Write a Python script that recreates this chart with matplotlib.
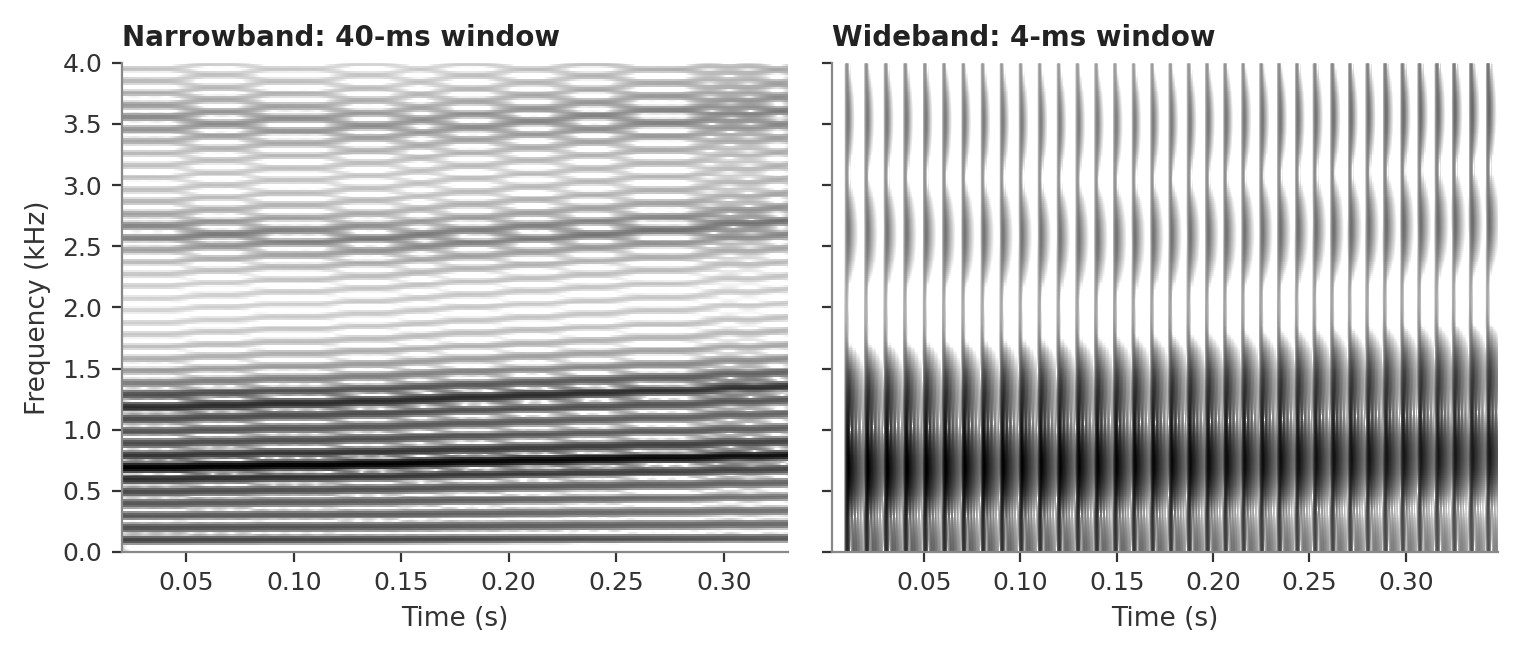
import numpy as np
import matplotlib
matplotlib.use("Agg")
import matplotlib.pyplot as plt

# sampling rate and duration of the synthesized vowel
fs = 8000
duration = 0.35

# f0 contour (Hz) read from harmonic slopes
f0_times = [0.0, 0.10, 0.20, 0.35]
f0_values = [98.0, 101.0, 106.0, 114.0]

# formant tracks (Hz) and bandwidths (Hz)
formant_times = [0.0, 0.15, 0.35]
formant_tracks = [
    [680.0, 720.0, 800.0],
    [1200.0, 1260.0, 1380.0],
    [2620.0, 2560.0, 2700.0],
    [3550.0, 3500.0, 3600.0],
]
formant_bws = [80.0, 100.0, 150.0, 220.0]

t = np.arange(int(fs * duration)) / fs
f0 = np.interp(t, f0_times, f0_values)
phase = np.cumsum(f0) / fs
source = np.zeros_like(t)
source[np.nonzero(np.diff(np.floor(phase)))[0] + 1] = 1.0


def one_pole(x, r):
    y = np.zeros_like(x)
    for n in range(len(x)):
        y[n] = x[n] + r * (y[n - 1] if n > 0 else 0.0)
    return y


# glottal spectral tilt
source = one_pole(one_pole(source, 0.94), 0.94)
source = np.diff(source, prepend=0.0)

sig = source
for track, bw in zip(formant_tracks, formant_bws):
    fc = np.interp(t, formant_times, track)
    r = np.exp(-np.pi * bw / fs)
    a1 = 2 * r * np.cos(2 * np.pi * fc / fs)
    a2 = -r * r
    out = np.zeros_like(sig)
    for n in range(len(sig)):
        out[n] = sig[n] + a1[n] * (out[n - 1] if n > 0 else 0) + a2 * (out[n - 2] if n > 1 else 0)
    sig = out
sig = sig / np.max(np.abs(sig))

fig, axes = plt.subplots(1, 2, figsize=(7.605, 3.305), dpi=200, sharey=True)
fig.subplots_adjust(left=0.08, right=0.985, top=0.905, bottom=0.165, wspace=0.065)

for ax, win, title, vmin in [
    (axes[0], 0.040, "Narrowband: 40-ms window", -42),
    (axes[1], 0.004, "Wideband: 4-ms window", -38),
]:
    nfft = int(win * fs)
    spec, freqs, times = matplotlib.mlab.specgram(
        sig, NFFT=nfft, Fs=fs, noverlap=nfft - 1, pad_to=max(512, nfft),
        window=np.hanning(nfft))
    db = 10 * np.log10(spec + 1e-14)
    db -= db.max()
    ax.pcolormesh(times, freqs / 1000, db, cmap="gray_r", vmin=vmin, vmax=0,
                  shading="auto", rasterized=True)
    ax.set_xlim(times[0], times[-1])
    ax.set_ylim(0, 4.0)
    ax.set_title(title, loc="left", fontweight="bold", fontsize=10, color="#222222")
    ax.set_xlabel("Time (s)", fontsize=9.5, color="#333333")
    ax.set_xticks([0.05, 0.10, 0.15, 0.20, 0.25, 0.30])
    ax.set_yticks(np.arange(0, 4.01, 0.5))
    ax.tick_params(labelsize=9, colors="#333333")
    for s in ("top", "right"):
        ax.spines[s].set_visible(False)
    for s in ("left", "bottom"):
        ax.spines[s].set_color("#888888")

axes[0].set_ylabel("Frequency (kHz)", fontsize=9.5, color="#333333")
fig.savefig("out.png", dpi=200)
